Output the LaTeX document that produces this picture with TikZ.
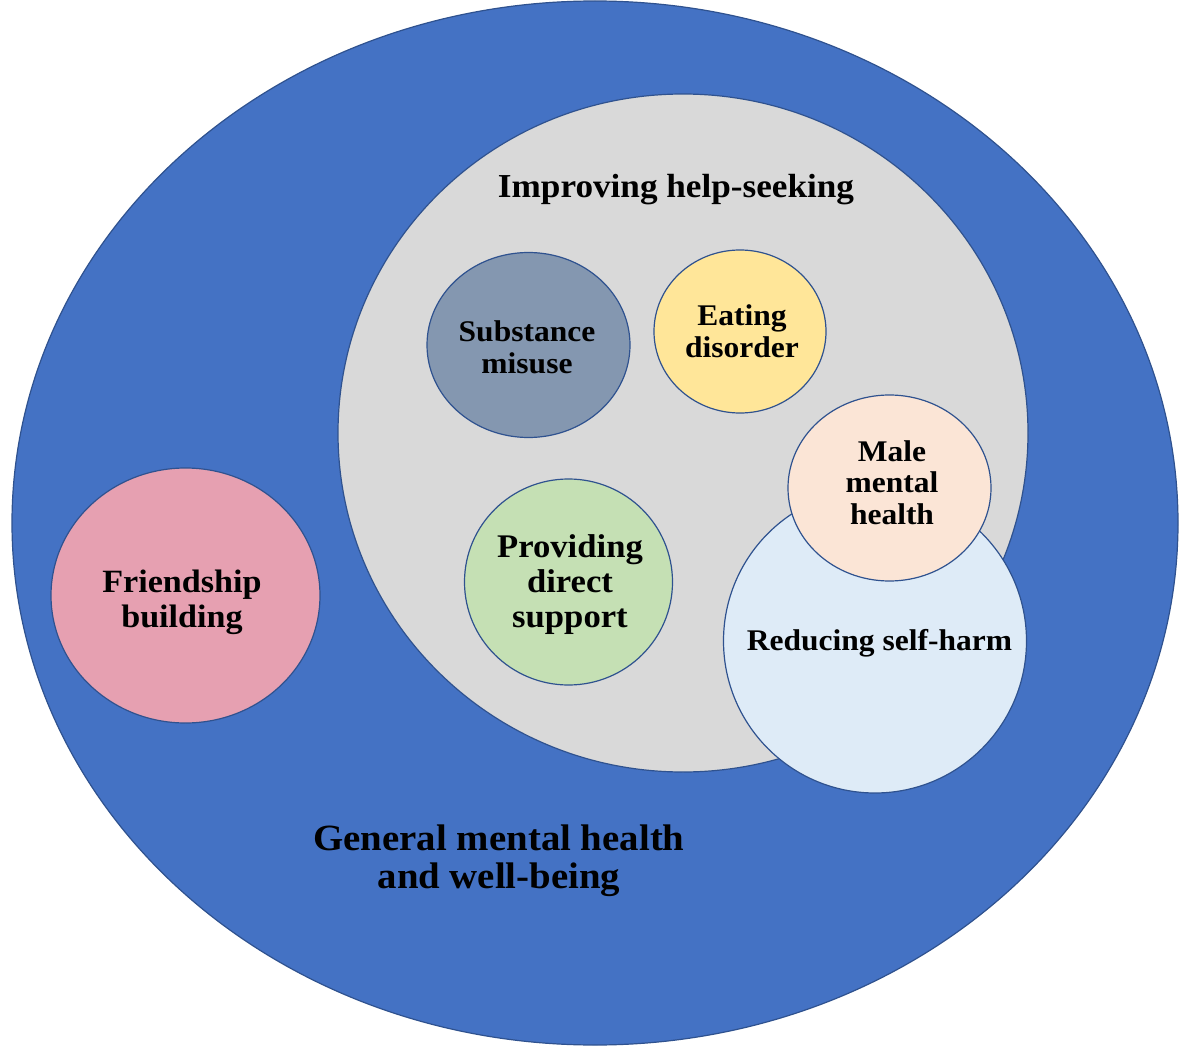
\documentclass[tikz,border=0pt]{standalone}
\usepackage{fontspec}
\setmainfont[FakeStretch=1.05]{Liberation Serif}
\definecolor{bigblue}{HTML}{4472C4}
\definecolor{edge}{HTML}{2F528F}
\definecolor{helpgray}{HTML}{D9D9D9}
\definecolor{subst}{HTML}{8497B0}
\definecolor{eating}{HTML}{FFE699}
\definecolor{male}{HTML}{FBE5D6}
\definecolor{selfharm}{HTML}{DEEBF7}
\definecolor{support}{HTML}{C5E0B4}
\definecolor{friend}{HTML}{E6A0B1}
\tikzset{
  area/.style={draw=edge, line width=1.2pt},
  lab/.style={anchor=base, align=center, inner sep=0pt, text=black, font=\bfseries},
}
\begin{document}
\begin{tikzpicture}[x=1pt, y=-1pt]
\useasboundingbox (0,0) rectangle (1179,1046);
% ellipses
\path[area, fill=bigblue] (595,523) ellipse [x radius=583, y radius=522];
\path[area, fill=helpgray] (683,433) ellipse [x radius=345, y radius=339];
\path[area, fill=subst] (528.5,345) ellipse [x radius=101.5, y radius=92.5];
\path[area, fill=eating] (740,331.5) ellipse [x radius=86, y radius=81.5];
\path[area, fill=support] (568.5,582) ellipse [x radius=104, y radius=103];
\path[area, fill=friend] (185.5,595.5) ellipse [x radius=134.5, y radius=127.5];
\path[area, fill=selfharm] (875,641) ellipse [x radius=151.5, y radius=152];
\path[area, fill=male] (889.5,488) ellipse [x radius=101.5, y radius=93];
% labels (anchor = baseline of the last line)
\node[lab, font=\bfseries\fontsize{33.5}{36}\selectfont] (help) at (676,197) {Improving help-seeking};
\node[lab, font=\bfseries\fontsize{30}{31.5}\selectfont] (subl) at (527,373) {Substance\\misuse};
\node[lab, font=\bfseries\fontsize{30}{32}\selectfont] (eatl) at (742,357) {Eating\\disorder};
\node[lab, font=\bfseries\fontsize{30}{31.5}\selectfont] (malel) at (892,524) {Male\\mental\\health};
\node[lab, font=\bfseries\fontsize{30}{35}\selectfont] (harml) at (879.5,650) {Reducing self-harm};
\node[lab, font=\bfseries\fontsize{33}{35}\selectfont] (suppl) at (570,627) {Providing\\direct\\support};
\node[lab, font=\bfseries\fontsize{32.5}{35}\selectfont] (friendl) at (182,627) {Friendship\\building};
\node[lab, font=\bfseries\fontsize{37}{38}\selectfont] (genl) at (499,888) {General mental health\\and well-being};
\end{tikzpicture}
\end{document}
